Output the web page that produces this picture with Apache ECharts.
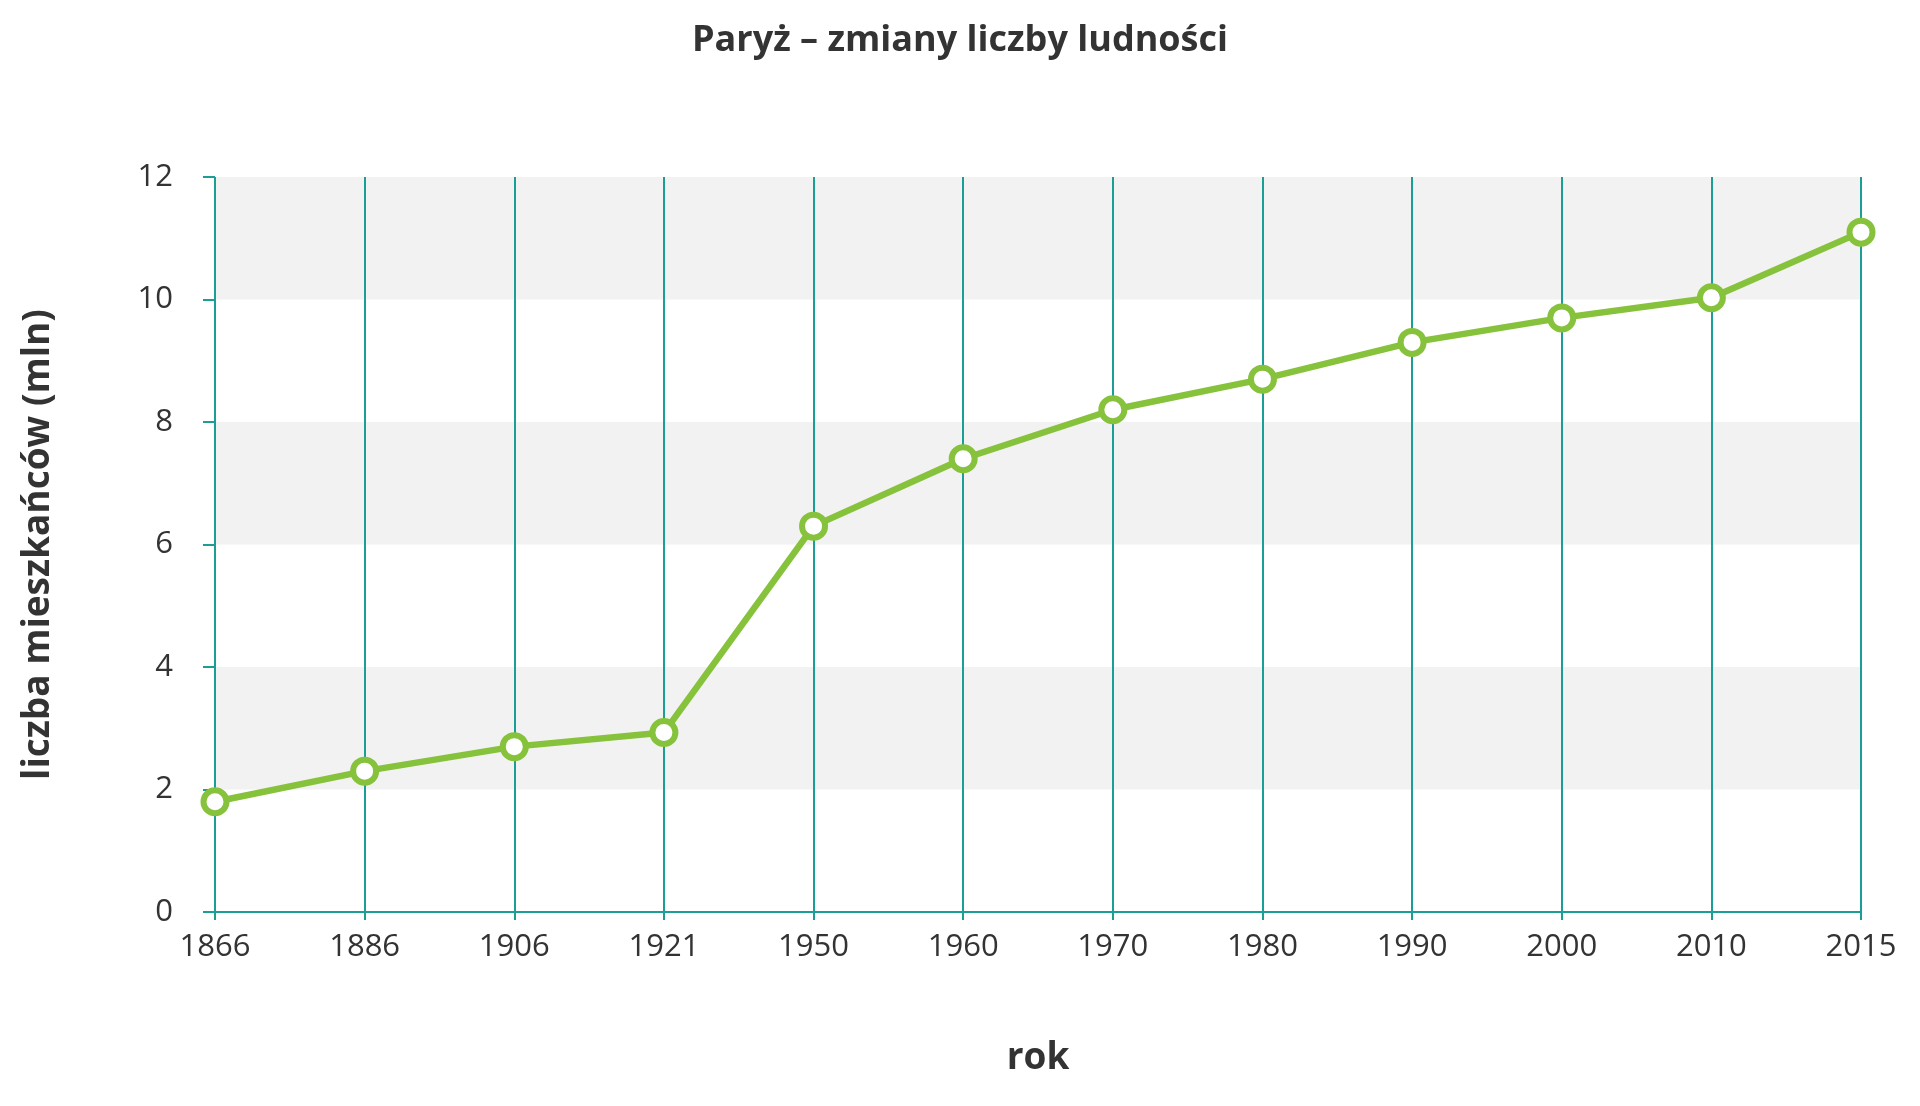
<!DOCTYPE html>
<html><head><meta charset="utf-8">
<script src="https://cdn.jsdelivr.net/npm/echarts@6/dist/echarts.min.js"></script>
<style>html,body{margin:0;background:#fff}#c{width:1920px;height:1106px}</style>
</head><body><div id="c"></div>
<script>
const years = ['1866','1886','1906','1921','1950','1960','1970','1980','1990','2000','2010','2015'];
const population = [1.8, 2.3, 2.7, 2.93, 6.3, 7.4, 8.2, 8.7, 9.3, 9.7, 10.03, 11.1];
const teal = '#1a9e96';
const chart = echarts.init(document.getElementById('c'));
chart.setOption({
  textStyle:{fontFamily:'Open Sans'},
  title:{text:'Paryż – zmiany liczby ludności',left:'center',top:18,
    textStyle:{fontFamily:'Open Sans',fontWeight:'bold',fontSize:36,color:'#333'}},
  grid:{left:215,right:59,top:177,bottom:194},
  xAxis:{type:'category',data:years,boundaryGap:false,
    name:'rok',nameLocation:'middle',nameGap:128,
    nameTextStyle:{fontSize:37,fontWeight:'bold',color:'#333'},
    axisLine:{lineStyle:{color:teal,width:2}},
    axisTick:{show:true,alignWithLabel:true,length:8,lineStyle:{color:teal,width:2}},
    axisLabel:{fontSize:31,color:'#333',margin:20},
    splitLine:{show:true,lineStyle:{color:teal,width:2}}},
  yAxis:{type:'value',min:0,max:12,interval:2,
    name:'liczba mieszkańców (mln)',nameLocation:'middle',nameGap:158,
    nameTextStyle:{fontSize:37,fontWeight:'bold',color:'#333'},
    axisLine:{show:false},
    axisTick:{show:true,length:12,lineStyle:{color:teal,width:2}},
    axisLabel:{fontSize:31,color:'#333',margin:42},
    splitLine:{show:false},
    splitArea:{show:true,areaStyle:{color:['#ffffff','#f2f2f2']}}},
  series:[{type:'line',data:population,symbol:'circle',symbolSize:23,
    lineStyle:{color:'#86c23b',width:6.5},
    itemStyle:{color:'#ffffff',borderColor:'#86c23b',borderWidth:6},
    emphasis:{disabled:true},animation:false}]
});
</script></body></html>
